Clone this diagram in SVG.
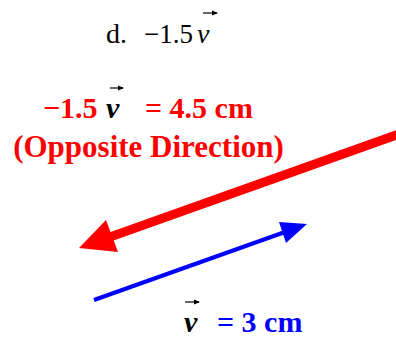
<svg xmlns="http://www.w3.org/2000/svg" width="396" height="339" viewBox="0 0 396 339">
<style>
.t{font-family:"Liberation Serif","Times New Roman",serif}
.b{font-weight:bold}
.red{fill:#ff0000}
.blue{fill:#0000ff}
.vec{stroke:#000;stroke-width:1.2;fill:none}
</style>
<defs>
<marker id="sm" markerWidth="6" markerHeight="6" refX="5" refY="3" orient="auto" markerUnits="userSpaceOnUse"><path d="M0,0.5 L6,3 L0,5.5 Z" fill="#000"/></marker>
</defs>
<rect width="396" height="339" fill="#fff"/>
<g id="title">
<text class="t" x="106" y="43" font-size="28">d.</text>
<text class="t" x="144" y="43" font-size="27">−1.5</text>
<text class="t" x="197" y="43" font-size="28" font-style="italic">v</text>
<line class="vec" x1="203" y1="13" x2="217" y2="13" marker-end="url(#sm)"/>
</g>
<g id="red-label">
<text class="t b red" x="43" y="118" font-size="30">−1.5</text>
<text class="t b" x="106" y="118" font-size="30" font-style="italic">v</text>
<line class="vec" x1="110" y1="88" x2="123" y2="88" marker-end="url(#sm)"/>
<text class="t b red" x="145" y="118" font-size="30">= 4.5 cm</text>
<text class="t b red" x="148.5" y="157" font-size="31" text-anchor="middle">(Opposite Direction)</text>
</g>
<g id="blue-label">
<text class="t b" x="184" y="332" font-size="30" font-style="italic">v</text>
<line class="vec" x1="185" y1="302" x2="199" y2="302" marker-end="url(#sm)"/>
<text class="t b blue" x="217" y="332" font-size="30">= 3 cm</text>
</g>
<g id="connectors">
<line x1="402" y1="133" x2="110" y2="237" stroke="#ff0000" stroke-width="9"/>
<polygon points="79,248 106,220 118,252" fill="#ff0000"/>
<line x1="94" y1="300" x2="285" y2="232" stroke="#0000ff" stroke-width="4"/>
<polygon points="307,224 279,222 286,243" fill="#0000ff"/>
</g>
</svg>
